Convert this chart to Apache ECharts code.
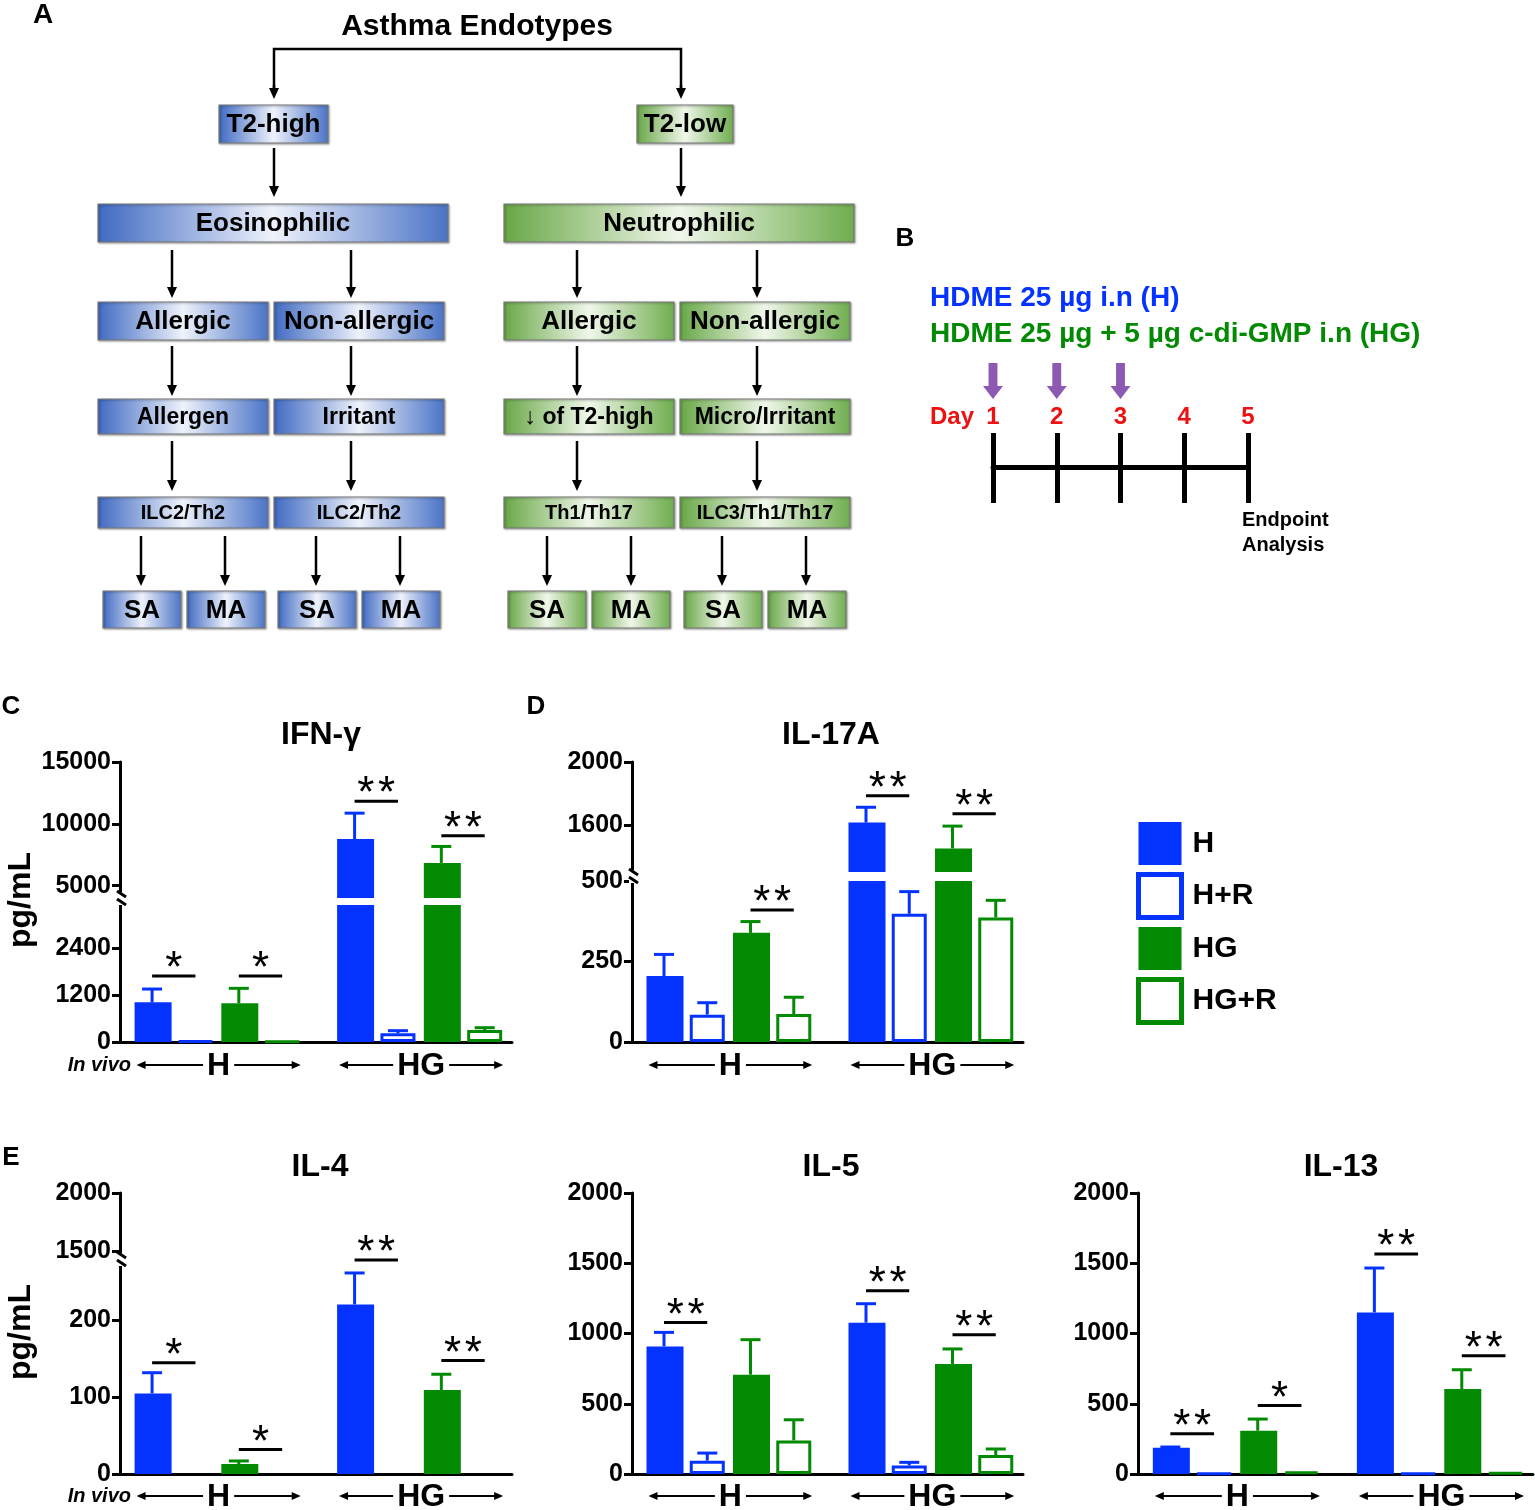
<!DOCTYPE html>
<html><head><meta charset="utf-8">
<script src="https://cdn.jsdelivr.net/npm/echarts@6/dist/echarts.min.js"></script>
<style>html,body{margin:0;padding:0;background:#fff}#c{width:1535px;height:1510px}</style>
</head><body><div id="c"></div>
<script>
// ---------------- DATA ----------------
const SERIES_NAMES = ['H', 'H+R', 'HG', 'HG+R'];
const GROUP_NAMES = ['H', 'HG'];
// order of every value array: H group [H, H+R, HG, HG+R], then HG group [H, H+R, HG, HG+R]
const IFNG_MEAN = [1013, 30, 988, 12, 8766, 222, 6830, 306];
const IFNG_ERR_TOP = [1353, null, 1371, null, 10863, 289, 8170, 365];
const IFNG_SIG = [[0, 1, 1685, '*'], [2, 3, 1685, '*'], [4, 5, 11830, '**'], [6, 7, 9030, '**']];
const IFNG_TICKS_LOW = [0, 1200, 2400];
const IFNG_TICKS_HIGH = [5000, 10000, 15000];

const IL17A_MEAN = [205, 85, 339, 87, 1615, 398, 1450, 387];
const IL17A_ERR_TOP = [272, 122, 374, 139, 1712, 467, 1592, 440];
const IL17A_SIG = [[2, 3, 410, '**'], [4, 5, 1785, '**'], [6, 7, 1670, '**']];
const IL17A_TICKS_LOW = [0, 250, 500];
const IL17A_TICKS_HIGH = [1600, 2000];

const IL4_MEAN = [105, null, 13, null, 221, null, 109.5, null];
const IL4_ERR_TOP = [132, null, 17, null, 262, null, 130, null];
const IL4_SIG = [[0, 1, 145, '*'], [2, 3, 32, '*'], [4, 5, 279, '**'], [6, 7, 148, '**']];
const IL4_TICKS_LOW = [0, 100, 200];
const IL4_TICKS_HIGH = [1500, 2000];

const IL5_MEAN = [908, 95, 707, 239, 1077, 61, 783, 135];
const IL5_ERR_TOP = [1008, 149, 956, 386, 1212, 83, 890, 178];
const IL5_SIG = [[0, 1, 1079, '**'], [4, 5, 1305, '**'], [6, 7, 991, '**']];
const IL5_TICKS = [0, 500, 1000, 1500, 2000];

const IL13_MEAN = [187, 5, 308, 18, 1150, 5, 605, 12];
const IL13_ERR_TOP = [192, null, 391, null, 1466, null, 742, null];
const IL13_SIG = [[0, 1, 287, '**'], [2, 3, 488, '*'], [4, 5, 1566, '**'], [6, 7, 842, '**']];
const IL13_TICKS = [0, 500, 1000, 1500, 2000];

const DAYS = [1, 2, 3, 4, 5];
const DOSE_DAYS = [1, 2, 3];

// ---------------- STYLE / LAYOUT ----------------
const FONT = '"Liberation Sans", Arial, Helvetica, sans-serif';
const BLUE = '#0433ff', GREEN = '#038a03', RED = '#ee1111', PURPLE = '#7030a0';
const COLORS = [BLUE, BLUE, GREEN, GREEN];
const OPEN = [false, true, false, true];
const X_MIN = -0.74, X_MAX = 8.3, GROUP_STRIDE = 4.67, BAR_W = 37;
function pos(i) { return Math.floor(i / 4) * GROUP_STRIDE + (i % 4); }

const PANELS = [
  { title: 'IFN-γ', tx: 321, ty: 735, left: 120, width: 392, mean: IFNG_MEAN, err: IFNG_ERR_TOP, sig: IFNG_SIG,
    segs: [{ top: 905, bottom: 1042, min: 0, max: 3500, ticks: IFNG_TICKS_LOW },
           { top: 762, bottom: 898, min: 4000, max: 15000, ticks: IFNG_TICKS_HIGH }],
    groupY: 1065, inVivo: true, yName: 900, breakY: 898 },
  { title: 'IL-17A', tx: 831, ty: 735, left: 632, width: 391, mean: IL17A_MEAN, err: IL17A_ERR_TOP, sig: IL17A_SIG,
    segs: [{ top: 881, bottom: 1042, min: 0, max: 500, ticks: IL17A_TICKS_LOW },
           { top: 762, bottom: 872, min: 1300, max: 2000, ticks: IL17A_TICKS_HIGH }],
    groupY: 1065, inVivo: false, breakY: 876 },
  { title: 'IL-4', tx: 320, ty: 1167, left: 120, width: 392, mean: IL4_MEAN, err: IL4_ERR_TOP, sig: IL4_SIG,
    segs: [{ top: 1263, bottom: 1474, min: 0, max: 275, ticks: IL4_TICKS_LOW },
           { top: 1193, bottom: 1257, min: 1450, max: 2000, ticks: IL4_TICKS_HIGH }],
    groupY: 1496, inVivo: true, yName: 1332, breakY: 1259 },
  { title: 'IL-5', tx: 831, ty: 1167, left: 632, width: 391, mean: IL5_MEAN, err: IL5_ERR_TOP, sig: IL5_SIG,
    segs: [{ top: 1193, bottom: 1474, min: 0, max: 2000, ticks: IL5_TICKS }],
    groupY: 1496, inVivo: false },
  { title: 'IL-13', tx: 1341, ty: 1167, left: 1138, width: 395, mean: IL13_MEAN, err: IL13_ERR_TOP, sig: IL13_SIG,
    segs: [{ top: 1193, bottom: 1474, min: 0, max: 2000, ticks: IL13_TICKS }],
    groupY: 1496, inVivo: false }
];

const grids = [], xAxes = [], yAxes = [], series = [], elements = [];

function txt(x, y, text, size, opts) {
  opts = opts || {};
  const st = {
    text: text, fill: opts.color || '#000',
    font: (opts.italic ? 'italic ' : '') + (opts.weight || 'bold') + ' ' + size + 'px ' + FONT,
    align: opts.align || 'center', verticalAlign: 'middle',
    textAlign: opts.align || 'center', textVerticalAlign: 'middle'
  };
  if (opts.bg) { st.backgroundColor = opts.bg; st.padding = opts.pad || [0, 4]; }
  return { type: 'text', x: x, y: y, rotation: opts.rot || 0, z: 10, style: st };
}
function line(x1, y1, x2, y2, w, c) {
  return { type: 'line', z: 5, shape: { x1: x1, y1: y1, x2: x2, y2: y2 }, style: { stroke: c || '#000', lineWidth: w || 2.5 } };
}
function downArrow(x, y1, y2) {
  elements.push(line(x, y1, x, y2 - 9, 2.5));
  elements.push({ type: 'polygon', z: 5, shape: { points: [[x - 5, y2 - 11], [x + 5, y2 - 11], [x, y2]] }, style: { fill: '#000' } });
}

// ---------------- BAR PANELS ----------------
function errRender(params, api) {
  const x = api.value(0), m = api.value(1), t = api.value(2), c = COLORS[api.value(3)];
  const p0 = api.coord([x, m]), p1 = api.coord([x, t]);
  return { type: 'group', children: [
    { type: 'line', shape: { x1: p0[0], y1: p0[1], x2: p1[0], y2: p1[1] }, style: { stroke: c, lineWidth: 3 } },
    { type: 'line', shape: { x1: p1[0] - 10, y1: p1[1], x2: p1[0] + 10, y2: p1[1] }, style: { stroke: c, lineWidth: 3 } }
  ] };
}

PANELS.forEach(function (p) {
  const px = function (v) { return p.left + (v - X_MIN) / (X_MAX - X_MIN) * p.width; };
  p.segs.forEach(function (s, si) {
    const gi = grids.length;
    grids.push({ left: p.left, top: s.top, width: p.width, height: s.bottom - s.top, containLabel: false });
    xAxes.push({ gridIndex: gi, type: 'value', min: X_MIN, max: X_MAX, show: si === 0,
      axisLine: { show: true, onZero: false, lineStyle: { color: '#000', width: 3 } },
      axisTick: { show: false }, axisLabel: { show: false }, splitLine: { show: false } });
    yAxes.push({ gridIndex: gi, type: 'value', min: s.min, max: s.max, position: 'left',
      axisLine: { show: true, onZero: false, lineStyle: { color: '#000', width: 3 } },
      axisTick: { show: true, length: 8, customValues: s.ticks, lineStyle: { color: '#000', width: 3 } },
      axisLabel: { customValues: s.ticks, color: '#000', fontSize: 25, fontWeight: 'bold', fontFamily: FONT, margin: 9,
        formatter: function (v) { return String(v); } },
      splitLine: { show: false } });
    SERIES_NAMES.forEach(function (name, k) {
      const data = [];
      GROUP_NAMES.forEach(function (g, gIdx) {
        const i = gIdx * 4 + k;
        if (p.mean[i] !== null) data.push([pos(i), p.mean[i]]);
      });
      series.push({ type: 'bar', name: name, xAxisIndex: gi, yAxisIndex: gi, barWidth: OPEN[k] ? BAR_W - 2 : BAR_W, barGap: '-100%',
        data: data, clip: true, silent: true,
        itemStyle: OPEN[k] ? { color: '#fff', borderColor: COLORS[k], borderWidth: 3 } : { color: COLORS[k] } });
    });
    const errData = [];
    p.mean.forEach(function (m, i) { if (m !== null && p.err[i] !== null) errData.push([pos(i), m, p.err[i], i % 4]); });
    series.push({ type: 'custom', xAxisIndex: gi, yAxisIndex: gi, clip: true, silent: true, data: errData,
      encode: { x: 0, y: [1, 2] }, renderItem: errRender, z: 3 });
    const mySig = p.sig.filter(function (q) {
      const inUpper = p.segs.length > 1 && q[2] >= p.segs[1].min;
      return si === 1 ? inUpper : !inUpper;
    });
    if (mySig.length) {
      series.push({ type: 'custom', xAxisIndex: gi, yAxisIndex: gi, clip: false, silent: true,
        data: mySig.map(function (q) { return [pos(q[0]), pos(q[1]), q[2]]; }),
        encode: { x: [0, 1], y: 2 },
        renderItem: function (params, api) {
          const a = api.coord([api.value(0), api.value(2)]), b = api.coord([api.value(1), api.value(2)]);
          const label = mySig[params.dataIndex][3] === '**' ? '*\u200a*' : '*';
          return { type: 'group', children: [
            { type: 'line', shape: { x1: a[0], y1: a[1], x2: b[0], y2: b[1] }, style: { stroke: '#000', lineWidth: 3 } },
            { type: 'text', x: (a[0] + b[0]) / 2, y: a[1] - 6, style: { text: label, fill: '#000', font: '44px ' + FONT,
              align: 'center', verticalAlign: 'middle', textAlign: 'center', textVerticalAlign: 'middle' } }
          ] };
        } });
    }
  });
  elements.push(txt(p.tx, p.ty, p.title, 32));
  GROUP_NAMES.forEach(function (g, gIdx) {
    const xl = px(pos(gIdx * 4)) - BAR_W / 2 + 3, xr = px(pos(gIdx * 4 + 3)) + BAR_W / 2;
    const y = p.groupY;
    elements.push(line(xl + 4, y, xr - 4, y, 2));
    elements.push({ type: 'polygon', z: 5, shape: { points: [[xl, y], [xl + 9, y - 4], [xl + 9, y + 4]] }, style: { fill: '#000' } });
    elements.push({ type: 'polygon', z: 5, shape: { points: [[xr, y], [xr - 9, y - 4], [xr - 9, y + 4]] }, style: { fill: '#000' } });
    elements.push(txt((xl + xr) / 2, y + 1, g, 32, { bg: '#fff', pad: [0, 4] }));
  });
  if (p.inVivo) elements.push(txt(131, p.groupY, 'In vivo', 20, { italic: true, align: 'right' }));
  if (p.yName) elements.push(txt(21, p.yName, 'pg/mL', 32, { rot: Math.PI / 2 }));
  if (p.breakY) {
    const x = p.left, by = p.breakY;
    elements.push({ type: 'rect', z: 4, shape: { x: x - 3, y: by - 6, width: 6, height: 13 }, style: { fill: '#fff' } });
    elements.push(line(x - 3, by - 7, x + 6, by - 1, 3));
    elements.push(line(x - 3, by + 1, x + 6, by + 7, 3));
  }
});

// ---------------- PANEL B: timeline ----------------
const gB = grids.length;
grids.push({ left: 993, top: 363, width: 255, height: 104, containLabel: false });
xAxes.push({ gridIndex: gB, type: 'value', min: 1, max: 5, interval: 1, position: 'bottom',
  axisLine: { show: true, onZero: false, lineStyle: { color: '#000', width: 5 } },
  axisTick: { show: true, inside: true, length: 34, lineStyle: { color: '#000', width: 5 } },
  axisLabel: { show: true, inside: true, margin: 38, color: RED, fontSize: 24, fontWeight: 'bold', fontFamily: FONT },
  splitLine: { show: false } });
xAxes.push({ gridIndex: gB, type: 'value', min: 1, max: 5, interval: 1, position: 'bottom',
  axisLine: { show: false, onZero: false }, axisTick: { show: true, inside: false, length: 36, lineStyle: { color: '#000', width: 5 } },
  axisLabel: { show: false }, splitLine: { show: false } });
yAxes.push({ gridIndex: gB, type: 'value', min: 0, max: 1, show: false });
series.push({ type: 'scatter', xAxisIndex: xAxes.length - 2, yAxisIndex: yAxes.length - 1, silent: true, clip: false,
  symbol: 'path://M5,0 L13,0 L13,23 L18,23 L9,36 L0,23 L5,23 Z', symbolSize: [20, 36],
  itemStyle: { color: PURPLE }, data: DOSE_DAYS.map(function (d) { return [d, 0.827]; }) });
elements.push(txt(905, 239, 'B', 26));
elements.push(txt(930, 298, 'HDME 25 µg i.n (H)', 28, { color: BLUE, align: 'left' }));
elements.push(txt(930, 334, 'HDME 25 µg + 5 µg c-di-GMP i.n (HG)', 28, { color: GREEN, align: 'left' }));
elements.push(txt(930, 417, 'Day', 24, { color: RED, align: 'left' }));
elements.push(txt(1242, 520, 'Endpoint', 20, { align: 'left' }));
elements.push(txt(1242, 545, 'Analysis', 20, { align: 'left' }));

// ---------------- PANEL A: diagram ----------------
function grad(c) {
  const stops = c === 'b'
    ? [{ offset: 0, color: '#3f69c2' }, { offset: 0.5, color: '#eef2fb' }, { offset: 1, color: '#4a73c6' }]
    : [{ offset: 0, color: '#68a746' }, { offset: 0.5, color: '#f0f7ea' }, { offset: 1, color: '#6fad4e' }];
  return new echarts.graphic.LinearGradient(0, 0, 1, 0, stops);
}
const A_BOXES = [
  ['T2-high', 219, 105, 109, 38, 'b', 26], ['T2-low', 637, 105, 96, 38, 'g', 26],
  ['Eosinophilic', 98, 204, 350, 38, 'b', 26], ['Neutrophilic', 504, 204, 350, 38, 'g', 26],
  ['Allergic', 98, 302, 170, 38, 'b', 26], ['Non-allergic', 274, 302, 170, 38, 'b', 26],
  ['Allergic', 504, 302, 170, 38, 'g', 26], ['Non-allergic', 680, 302, 170, 38, 'g', 26],
  ['Allergen', 98, 399, 170, 35, 'b', 23], ['Irritant', 274, 399, 170, 35, 'b', 23],
  ['↓ of T2-high', 504, 399, 170, 35, 'g', 23], ['Micro/Irritant', 680, 399, 170, 35, 'g', 23],
  ['ILC2/Th2', 98, 497, 170, 31, 'b', 20], ['ILC2/Th2', 274, 497, 170, 31, 'b', 20],
  ['Th1/Th17', 504, 497, 170, 31, 'g', 20], ['ILC3/Th1/Th17', 680, 497, 170, 31, 'g', 20],
  ['SA', 103, 591, 78, 37, 'b', 26], ['MA', 187, 591, 78, 37, 'b', 26],
  ['SA', 278, 591, 78, 37, 'b', 26], ['MA', 362, 591, 78, 37, 'b', 26],
  ['SA', 508, 591, 78, 37, 'g', 26], ['MA', 592, 591, 78, 37, 'g', 26],
  ['SA', 684, 591, 78, 37, 'g', 26], ['MA', 768, 591, 78, 37, 'g', 26]
];
A_BOXES.forEach(function (b) {
  elements.push({ type: 'rect', z: 4, shape: { x: b[1], y: b[2], width: b[3], height: b[4] },
    style: { fill: grad(b[5]), stroke: '#7a7a7a', lineWidth: 1.2, shadowBlur: 2, shadowColor: 'rgba(0,0,0,0.35)', shadowOffsetX: 1, shadowOffsetY: 1 } });
  elements.push(txt(b[1] + b[3] / 2, b[2] + b[4] / 2 + 1, b[0], b[6]));
});
elements.push(txt(43, 15, 'A', 28));
elements.push(txt(477, 27, 'Asthma Endotypes', 30));
elements.push({ type: 'polyline', z: 5, shape: { points: [[274, 89], [274, 49], [681, 49], [681, 89]] }, style: { stroke: '#000', lineWidth: 2.5, fill: null } });
downArrow(274, 85, 99); downArrow(681, 85, 99);
[274, 681].forEach(function (x) { downArrow(x, 148, 197); });
[172, 351, 577, 757].forEach(function (x) { downArrow(x, 250, 298); downArrow(x, 346, 396); downArrow(x, 441, 491); });
[141, 225, 316, 400, 547, 631, 722, 806].forEach(function (x) { downArrow(x, 536, 586); });

elements.push(txt(11, 707, 'C', 26));
elements.push(txt(536, 707, 'D', 26));
elements.push(txt(11, 1158, 'E', 26));

const chart = echarts.init(document.getElementById('c'), null, { renderer: 'canvas' });
chart.setOption({
  animation: false,
  backgroundColor: '#fff',
  textStyle: { fontFamily: FONT },
  grid: grids, xAxis: xAxes, yAxis: yAxes, series: series,
  legend: {
    orient: 'vertical', left: 1131, top: 817, padding: 5, itemWidth: 43, itemHeight: 43, itemGap: 7, icon: 'rect',
    selectedMode: false,
    textStyle: { fontSize: 30, fontWeight: 'bold', color: '#000', fontFamily: FONT, padding: [0, 0, 0, 6] },
    data: [
      { name: 'H', itemStyle: { color: BLUE, borderWidth: 0 } },
      { name: 'H+R', itemStyle: { color: '#fff', borderColor: BLUE, borderWidth: 5 } },
      { name: 'HG', itemStyle: { color: GREEN, borderWidth: 0 } },
      { name: 'HG+R', itemStyle: { color: '#fff', borderColor: GREEN, borderWidth: 5 } }
    ]
  },
  graphic: { elements: elements }
});
</script></body></html>
